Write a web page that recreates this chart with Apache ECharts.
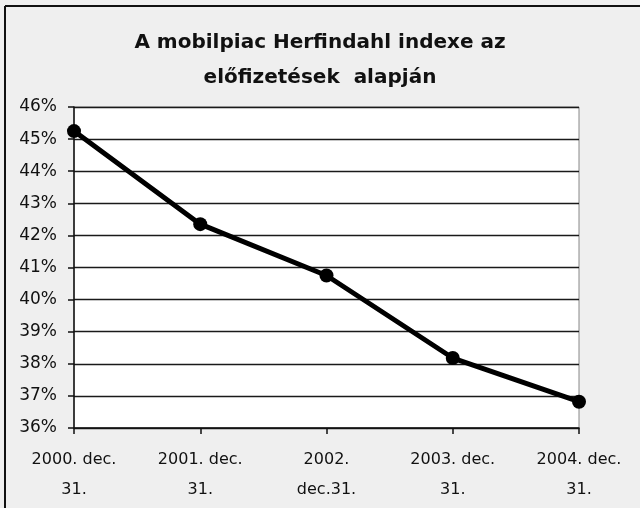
<!DOCTYPE html>
<html>
<head>
<meta charset="utf-8">
<script src="https://cdn.jsdelivr.net/npm/echarts@6/dist/echarts.min.js"></script>
<style>
html,body{margin:0;padding:0;background:#efefef;}
#chart{width:640px;height:508px;}
</style>
</head>
<body>
<div id="chart"></div>
<script>
const titleText = 'A mobilpiac Herfindahl indexe az\nelőfizetések  alapján';
const categories = ['2000. dec.\n31.', '2001. dec.\n31.', '2002.\ndec.31.', '2003. dec.\n31.', '2004. dec.\n31.'];
const herfindahl = [45.25, 42.35, 40.75, 38.18, 36.82];
const yMin = 36, yMax = 46, yStep = 1;

const chart = echarts.init(document.getElementById('chart'));
chart.setOption({
  backgroundColor: '#efefef',
  animation: false,
  title: {
    text: titleText,
    left: 'center',
    top: 20,
    textStyle: {
      fontFamily: 'DejaVu Sans',
      fontWeight: 'bold',
      fontSize: 20,
      lineHeight: 35,
      color: '#111'
    }
  },
  graphic: [
    { type: 'line', shape: { x1: 5, y1: 6, x2: 5, y2: 508 }, style: { stroke: '#111', lineWidth: 2 } },
    { type: 'line', shape: { x1: 5, y1: 6, x2: 640, y2: 6 }, style: { stroke: '#111', lineWidth: 2 } }
  ],
  grid: {
    left: 74, right: 61, top: 107, bottom: 80,
    show: true, backgroundColor: '#ffffff', borderColor: '#888', borderWidth: 1
  },
  xAxis: {
    type: 'category',
    data: categories,
    boundaryGap: false,
    axisLine: { lineStyle: { color: '#111', width: 1.5 } },
    axisTick: { show: true, length: 6, interval: 0, lineStyle: { color: '#111', width: 1.5 } },
    axisLabel: {
      interval: 0,
      margin: 17,
      fontFamily: 'DejaVu Sans',
      fontSize: 16,
      lineHeight: 30,
      color: '#111'
    }
  },
  yAxis: {
    type: 'value',
    min: yMin, max: yMax, interval: yStep,
    axisLine: { show: true, lineStyle: { color: '#111', width: 1.5 } },
    axisTick: { show: true, length: 6, lineStyle: { color: '#111', width: 1.5 } },
    splitLine: { lineStyle: { color: '#1a1a1a', width: 1.3 } },
    axisLabel: {
      formatter: '{value}%',
      margin: 17,
      fontFamily: 'DejaVu Sans',
      fontSize: 17,
      color: '#111'
    }
  },
  series: [{
    type: 'line',
    data: herfindahl,
    symbol: 'circle',
    symbolSize: 14,
    lineStyle: { color: '#000', width: 5 },
    itemStyle: { color: '#000' }
  }]
});
</script>
</body>
</html>
